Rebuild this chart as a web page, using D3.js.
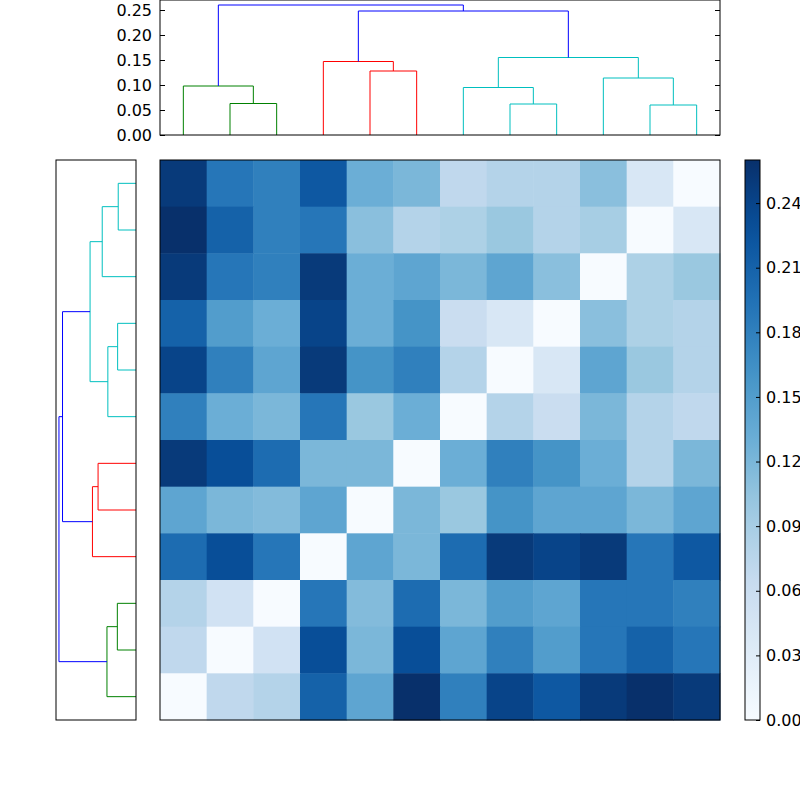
<!DOCTYPE html>
<html><head><meta charset="utf-8">
<script src="https://cdn.jsdelivr.net/npm/d3@7"></script>
<style>body{margin:0;background:#fff}text{font-family:"DejaVu Sans";font-size:16px}</style>
</head><body><svg id="c" width="800" height="800"></svg>
<script>
const matrix = [
[0.25,0.19,0.18,0.22,0.13,0.12,0.07,0.08,0.08,0.11,0.04,0],
[0.26,0.21,0.18,0.19,0.11,0.08,0.085,0.10,0.08,0.09,0,0.04],
[0.25,0.19,0.18,0.25,0.13,0.14,0.12,0.14,0.11,0,0.085,0.10],
[0.21,0.15,0.13,0.24,0.13,0.16,0.06,0.04,0,0.11,0.085,0.08],
[0.24,0.18,0.14,0.25,0.16,0.18,0.08,0,0.04,0.14,0.10,0.08],
[0.18,0.13,0.12,0.19,0.10,0.13,0,0.08,0.06,0.12,0.08,0.07],
[0.25,0.23,0.20,0.12,0.12,0,0.13,0.18,0.16,0.13,0.08,0.12],
[0.14,0.12,0.115,0.14,0,0.12,0.10,0.16,0.14,0.14,0.12,0.14],
[0.20,0.23,0.19,0,0.14,0.12,0.20,0.25,0.24,0.25,0.19,0.22],
[0.08,0.05,0,0.19,0.115,0.20,0.12,0.15,0.14,0.19,0.19,0.18],
[0.07,0,0.05,0.23,0.12,0.23,0.14,0.18,0.15,0.19,0.21,0.19],
[0,0.07,0.08,0.21,0.14,0.26,0.18,0.24,0.22,0.25,0.26,0.25]];
const merges = [
[1,2,0.063,"green"],[0,12,0.098,"green"],
[4,5,0.128,"red"],[3,14,0.147,"red"],
[7,8,0.062,"c"],[6,16,0.095,"c"],
[10,11,0.06,"c"],[9,18,0.114,"c"],
[17,19,0.155,"c"],[15,20,0.248,"blue"],[13,21,0.26,"blue"]];
const colorTicks = [0,0.03,0.06,0.09,0.12,0.15,0.18,0.21,0.24];
const dendTicks = [0,0.05,0.10,0.15,0.20,0.25];
const colMap = {green:"#008000",red:"#ff0000",c:"#00bfbf",blue:"#0000ff"};
const bluesStops = ["#f7fbff","#deebf7","#c6dbef","#9ecae1","#6baed6","#4292c6","#2171b5","#08519c","#08306b"];

const svg = d3.select("#c");
const n = 12, vmax = 0.26;
const X0=160,X1=720,Y0=160,Y1=720;
const xs = d3.scaleBand().domain(d3.range(n)).range([X0,X1]);
const ys = d3.scaleBand().domain(d3.range(n)).range([Y0,Y1]);
const color = d3.scaleLinear().domain(bluesStops.map((c,i)=>i*vmax/(bluesStops.length-1))).range(bluesStops).clamp(true);
matrix.forEach((row,i)=>row.forEach((v,j)=>{
  svg.append("rect").attr("x",xs(j)).attr("y",ys(i)).attr("width",xs.bandwidth()+0.5).attr("height",ys.bandwidth()+0.5).attr("fill",color(v));
}));
svg.append("rect").attr("x",X0).attr("y",Y0).attr("width",X1-X0).attr("height",Y1-Y0).attr("fill","none").attr("stroke","#000");

const pos=[],hgt=[];
for(let i=0;i<n;i++){pos[i]=i;hgt[i]=0;}
merges.forEach((m,k)=>{pos[n+k]=(pos[m[0]]+pos[m[1]])/2;hgt[n+k]=m[2];});
const tY = d3.scaleLinear().domain([0,0.27]).range([135,0]);
const leafX = i=>xs(0)+xs.bandwidth()*(i+0.5);
merges.forEach(m=>{
  const a=m[0],b=m[1];
  svg.append("path").attr("fill","none").attr("stroke",colMap[m[3]])
   .attr("d",`M${leafX(pos[a])},${tY(hgt[a])}V${tY(m[2])}H${leafX(pos[b])}V${tY(hgt[b])}`);
});
svg.append("rect").attr("x",X0).attr("y",0).attr("width",X1-X0).attr("height",135).attr("fill","none").attr("stroke","#000");
const ax = svg.append("g").attr("transform",`translate(${X0},0)`).call(d3.axisLeft(tY).tickValues(dendTicks).tickFormat(d3.format(".2f")).tickSizeInner(-5).tickPadding(8));
ax.select(".domain").remove();
ax.selectAll("text").style("font-size","16px").style("font-family","DejaVu Sans");
const axr = svg.append("g").attr("transform",`translate(${X1},0)`).call(d3.axisRight(tY).tickValues(dendTicks).tickFormat("").tickSizeInner(-5));
axr.select(".domain").remove();

const lX = d3.scaleLinear().domain([0,0.27]).range([136,56]);
const leafY = i=>ys(0)+ys.bandwidth()*(n-1-i+0.5);
merges.forEach(m=>{
  const a=m[0],b=m[1];
  svg.append("path").attr("fill","none").attr("stroke",colMap[m[3]])
   .attr("d",`M${lX(hgt[a])},${leafY(pos[a])}H${lX(m[2])}V${leafY(pos[b])}H${lX(hgt[b])}`);
});
svg.append("rect").attr("x",56).attr("y",Y0).attr("width",80).attr("height",Y1-Y0).attr("fill","none").attr("stroke","#000");

const cb = d3.scaleLinear().domain([0,vmax]).range([Y1,Y0]);
const defs=svg.append("defs"),gr=defs.append("linearGradient").attr("id","g").attr("x1",0).attr("y1",1).attr("x2",0).attr("y2",0);
d3.range(0,1.001,0.05).forEach(t=>gr.append("stop").attr("offset",t).attr("stop-color",color(t*vmax)));
svg.append("rect").attr("x",745).attr("y",Y0).attr("width",15).attr("height",Y1-Y0).attr("fill","url(#g)").attr("stroke","#000");
const ca = svg.append("g").attr("transform","translate(760,0)").call(d3.axisRight(cb).tickValues(colorTicks).tickFormat(d3.format(".2f")).tickSizeInner(-4).tickPadding(6));
ca.select(".domain").remove();
ca.selectAll("text").style("font-size","16px").style("font-family","DejaVu Sans");
</script></body></html>
